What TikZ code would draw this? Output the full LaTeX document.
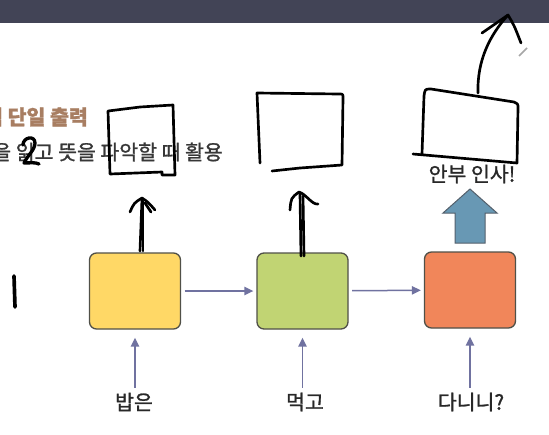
\documentclass[tikz,border=0pt]{standalone}
\usepackage{fontspec}
\newfontfamily\kr{Noto Sans CJK KR}[FakeBold=1.2]
\usetikzlibrary{arrows.meta}
\definecolor{barc}{RGB}{66,68,86}
\definecolor{titlec}{RGB}{168,126,98}
\definecolor{subc}{RGB}{55,55,55}
\definecolor{wordc}{RGB}{40,40,40}
\definecolor{edgec}{RGB}{80,80,72}
\definecolor{flowc}{RGB}{112,114,160}
\definecolor{cellA}{RGB}{255,216,102}
\definecolor{cellB}{RGB}{193,212,115}
\definecolor{cellC}{RGB}{241,134,90}
\definecolor{blockc}{RGB}{104,152,180}
\definecolor{blockedge}{RGB}{84,96,108}

\begin{document}
\begin{tikzpicture}[x=.3mm,y=-.3mm,line width=.35pt,font=\kr\fontsize{17.5pt}{20pt}\selectfont,
  cell/.style={draw=edgec,line width=.4mm,rounded corners=2.1mm,minimum width=27.3mm,minimum height=22.8mm},
  flow/.style={draw=flowc,line width=.45mm,-{Triangle[length=2.7mm,width=2.5mm]}},
  word/.style={inner sep=0,text=wordc},
  hand/.style={line width=.8mm,line cap=round,line join=round}]
\useasboundingbox (0,0) rectangle (549,434);
\clip (0,0) rectangle (549,434);
\fill[white] (0,0) rectangle (549,434);
\fill[barc] (0,0) rectangle (549,23);
% slide text
\node[anchor=east,text=titlec,inner sep=0] (title) at (88,117) {\bfseries 입력 단일 출력};
\node[anchor=east,text=subc,inner sep=0] (sub) at (223,152) {을 읽고 뜻을 파악할 때 활용};
% cells
\node[cell,fill=cellA] (c1) at (135,291) {};
\node[cell,fill=cellB] (c2) at (302.5,291) {};
\node[cell,fill=cellC] (c3) at (470,290) {};
\draw[flow,shorten <=1mm,shorten >=.9mm] (c1) -- (c2);
\draw[flow,shorten <=1mm,shorten >=.9mm] (c2) -- (c3);
% inputs
\node[word] (w1) at (134,402) {밥은};
\node[word] (w2) at (305,402) {먹고};
\node[word] (w3) at (471,402) {다니니?};
\draw[flow,shorten <=1.4mm,shorten >=2.4mm] (w1.north-|c1) -- (c1);
\draw[flow,shorten <=1.4mm,shorten >=2.4mm] (w2.north-|c2) -- (c2);
\draw[flow,shorten <=1.4mm,shorten >=2.4mm] (w3.north-|c3) -- (c3);
% output
\filldraw[fill=blockc,draw=blockedge,line width=.3mm] (455,243) -- (455,213) -- (443,213) -- (470,189)
  -- (497,213) -- (485,213) -- (485,243) -- cycle;
\node[word] (out) at (472,174) {안부 인사!};
% pen marks
\draw[hand] (110,174) -- (108,111) -- (140,107) -- (173,105) -- (175,175) -- (162,175) -- (162,172) -- (110,174);
\draw[hand] (140,251) -- (142,199);
\draw[hand] (143,251) -- (143,201);
\draw[hand] (130,212) .. controls (134,203) .. (142,198) .. controls (148,202) .. (155,210);
\draw[hand] (145,203) -- (151,212);
\draw[hand] (272,171) -- (300,168) -- (342,165) -- (343,98) .. controls (343,94) .. (339,94) -- (257,93) -- (260,163);
\draw[hand] (301,256) -- (300,194);
\draw[hand] (304,256) -- (303,196);
\draw[hand] (290,210) .. controls (291,198) .. (299,192) .. controls (306,194) and (312,205) .. (318,204);
\draw[hand] (413,154) -- (517,163) -- (518,108) .. controls (518,104) .. (514,102) -- (431,89)
  .. controls (425,89) .. (424,96) -- (422,154);
\draw[hand] (478,93) .. controls (477,60) and (490,35) .. (508,15);
\draw[hand] (482,33) -- (508,15) .. controls (514,25) .. (521,43);
\draw[hand,line width=1mm] (23,145) .. controls (23,137) and (35,135) .. (35,143) .. controls (35,150) and (27,156) .. (24,163)
  .. controls (30,163) and (35,162) .. (39,164);
\draw[hand,line width=1.1mm] (14,276) -- (15,307);
\draw[gray!70,line width=.5mm] (519,56) -- (527,48);
\end{tikzpicture}
\end{document}
